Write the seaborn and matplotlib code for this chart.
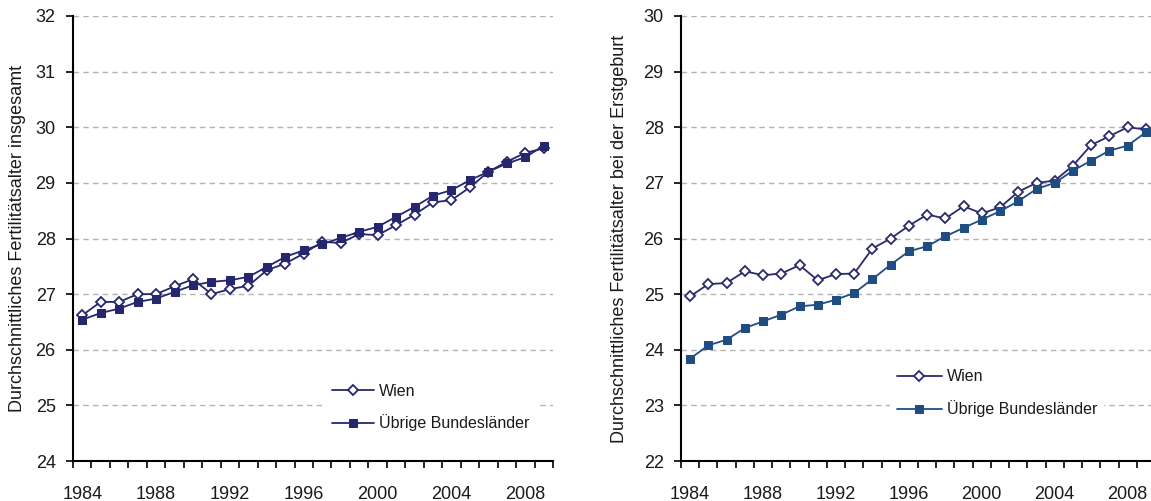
import matplotlib
matplotlib.use("Agg")
import matplotlib.pyplot as plt
import seaborn as sns
from matplotlib.ticker import MultipleLocator

years = list(range(1984, 2010))

# Durchschnittliches Fertilitaetsalter insgesamt
wien_total = [26.62, 26.86, 26.86, 27.00, 27.00, 27.14, 27.27, 27.00, 27.09, 27.15,
              27.43, 27.55, 27.73, 27.94, 27.92, 28.08, 28.06, 28.24, 28.43, 28.65,
              28.69, 28.92, 29.20, 29.38, 29.54, 29.62]
rest_total = [26.54, 26.66, 26.74, 26.86, 26.92, 27.04, 27.16, 27.22, 27.25, 27.31,
              27.49, 27.67, 27.79, 27.90, 28.01, 28.12, 28.21, 28.39, 28.57, 28.77,
              28.87, 29.05, 29.20, 29.35, 29.46, 29.67]

# Durchschnittliches Fertilitaetsalter bei der Erstgeburt
wien_first = [24.96, 25.18, 25.20, 25.41, 25.34, 25.37, 25.52, 25.25, 25.36, 25.37,
              25.82, 26.00, 26.23, 26.43, 26.36, 26.58, 26.45, 26.56, 26.84, 27.00,
              27.04, 27.31, 27.68, 27.84, 28.00, 27.96]
rest_first = [23.84, 24.08, 24.18, 24.39, 24.51, 24.63, 24.78, 24.81, 24.90, 25.02,
              25.27, 25.53, 25.77, 25.86, 26.04, 26.19, 26.34, 26.49, 26.67, 26.89,
              27.00, 27.22, 27.40, 27.58, 27.67, 27.91]

labels = ["Wien", "Übrige Bundesländer"]
ylabels = ["Durchschnittliches Fertilitätsalter insgesamt",
           "Durchschnittliches Fertilitätsalter bei der Erstgeburt"]

sns.set_style("white")
plt.rcParams["font.family"] = ["Liberation Sans", "DejaVu Sans"]
plt.rcParams["font.size"] = 13

fig = plt.figure(figsize=(11.51, 5.01), dpi=100)
ax1 = fig.add_axes([73 / 1151, 40 / 501, 480 / 1151, 445 / 501])
ax2 = fig.add_axes([681 / 1151, 40 / 501, 474 / 1151, 445 / 501])

panels = [
    (ax1, wien_total, rest_total, "#26266f", "#26266f", (24, 32), (-0.098, 0.5),
     (0.51, 0.034), ylabels[0], 2.6),
    (ax2, wien_first, rest_first, "#2a2a6c", "#1f4d82", (22, 30), (-0.112, 0.5),
     (0.425, 0.066), ylabels[1], 2.8),
]

for ax, wien, rest, c1, c2, ylim, lab_xy, leg_xy, ylab, hlen in panels:
    sns.lineplot(x=years, y=wien, ax=ax, color=c1, lw=1.3, marker="D", markersize=4.6,
                 markerfacecolor="white", markeredgecolor=c1, markeredgewidth=1.3,
                 label=labels[0], zorder=3)
    sns.lineplot(x=years, y=rest, ax=ax, color=c2, lw=1.3, marker="s", markersize=6.2,
                 markerfacecolor=c2, markeredgecolor=c2, label=labels[1], zorder=3)

    ax.set_xlim(1983.5, 2009.5)
    ax.set_ylim(*ylim)
    ax.yaxis.set_major_locator(MultipleLocator(1))
    ax.xaxis.set_major_locator(MultipleLocator(4))
    ax.xaxis.set_minor_locator(MultipleLocator(1, offset=0.5))
    ax.tick_params(axis="x", which="major", length=0, pad=18, labelcolor="#1a1a1a")
    ax.tick_params(axis="x", which="minor", length=5, width=1.2, direction="out",
                   color="black", bottom=True)
    ax.tick_params(axis="y", length=5, width=1.2, direction="out", color="black",
                   left=True, pad=7.5, labelcolor="#1a1a1a")
    ax.grid(axis="y", color="#b4b4b4", linestyle=(0, (4, 3)), linewidth=1.0)
    ax.grid(axis="x", visible=False)
    for side in ["top", "right"]:
        ax.spines[side].set_visible(False)
    for side in ["left", "bottom"]:
        ax.spines[side].set_color("black")
        ax.spines[side].set_linewidth(1.5)
    ax.set_xlabel("")
    ax.set_ylabel(ylab, color="#1a1a1a")
    ax.yaxis.set_label_coords(*lab_xy)

    leg = ax.legend(loc="lower left", bbox_to_anchor=leg_xy, frameon=True,
                    facecolor="white", edgecolor="none", framealpha=1,
                    fancybox=False, handlelength=hlen, handletextpad=0.35,
                    labelspacing=1.0, borderpad=0.4, fontsize=11.5)
    for t in leg.get_texts():
        t.set_color("#1a1a1a")

fig.savefig("out.png", dpi=100)
